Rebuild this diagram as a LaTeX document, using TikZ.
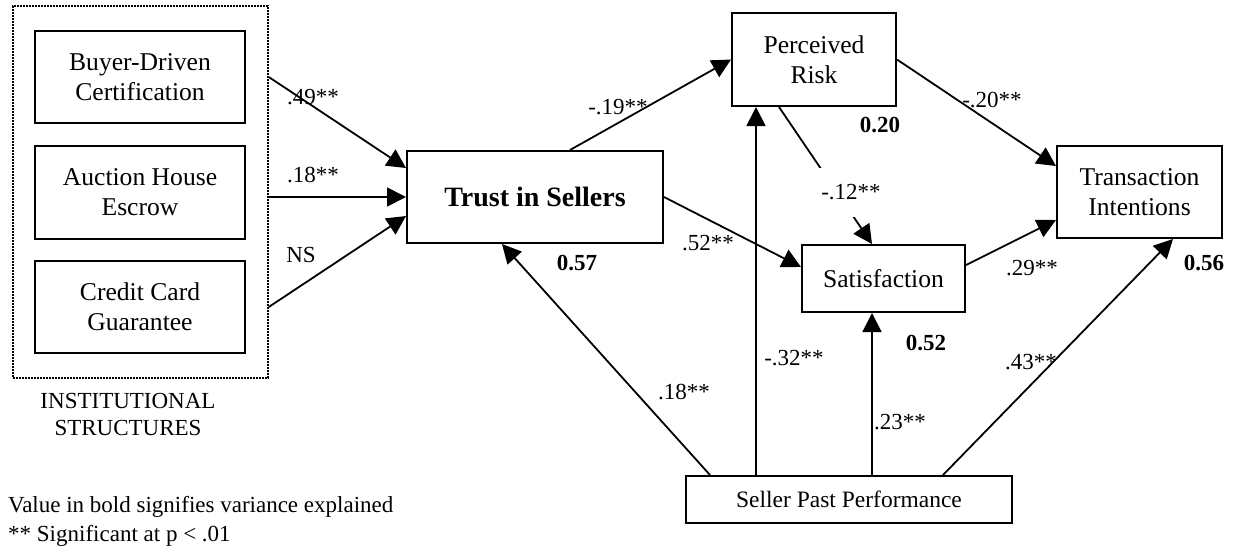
\documentclass[tikz,border=0pt]{standalone}
\usepackage{fontspec}
\setmainfont{Liberation Serif}
\usetikzlibrary{arrows.meta,calc}
\begin{document}
\begin{tikzpicture}[x=1pt,y=-1pt,
  box/.style={draw,line width=2pt,inner sep=0pt,align=center,font=\fontsize{25.6}{30}\selectfont},
  conn/.style={line width=1.8pt,-{Triangle[length=19pt,width=19pt]}},
  lab/.style={inner sep=0pt,font=\fontsize{23}{26}\selectfont},
  blab/.style={inner sep=0pt,font=\fontsize{23}{26}\selectfont\bfseries},
  note/.style={inner sep=0pt,align=left,anchor=west,font=\fontsize{23}{29}\selectfont}]
\useasboundingbox (0,0) rectangle (1234,550);
% institutional structures group
\node[draw,line width=1.6pt,dash pattern=on 1.6pt off 1.4pt,minimum width=255pt,minimum height=372pt,inner sep=0pt] (inst) at (140.5,192) {};
\node[box,minimum width=210pt,minimum height=92pt] (bdc) at (140,77) {Buyer-Driven\\Certification};
\node[box,minimum width=210pt,minimum height=93pt] (ahe) at (140,192.5) {Auction House\\Escrow};
\node[box,minimum width=210pt,minimum height=92pt] (ccg) at (140,307) {Credit Card\\Guarantee};
\node[lab,align=center,font=\fontsize{23}{27}\selectfont] (instlab) at (128,414.5) {INSTITUTIONAL\\STRUCTURES};
% main constructs
\node[box,minimum width=256pt,minimum height=92pt,font=\fontsize{28}{32}\selectfont\bfseries] (trust) at (535,197) {Trust in Sellers};
\node[box,minimum width=164pt,minimum height=93pt] (risk) at (814,59.5) {Perceived\\Risk};
\node[box,minimum width=163pt,minimum height=67pt] (sat) at (883.5,278.5) {Satisfaction};
\node[box,minimum width=165pt,minimum height=92pt] (trans) at (1139.5,192) {Transaction\\Intentions};
\node[box,minimum width=326pt,minimum height=47pt,font=\fontsize{23.5}{28}\selectfont] (seller) at (849,499.5) {Seller Past Performance};
% connectors
\draw[conn] (bdc -| inst.east) -- ([yshift=29pt]trust.west);
\draw[conn] (trust.west -| inst.east) -- (trust.west);
\draw[conn] (ccg -| inst.east) -- ([yshift=-19pt]trust.west);
\draw[conn] ([xshift=35pt]trust.north) -- (risk.west);
\draw[conn] (trust.east) -- ([yshift=11.5pt]sat.west);
\draw[conn] (risk.east) -- ([yshift=26pt]trans.west);
\draw[conn] ([yshift=13.5pt]sat.east) -- ([yshift=-28pt]trans.west);
\draw[conn] ([xshift=-35pt]risk.south) -- ([xshift=-11.5pt]sat.north);
\draw[conn] ([xshift=-139pt]seller.north) -- ([xshift=-33pt]trust.south);
\draw[conn] ([xshift=-93pt]seller.north) -- ([xshift=-58pt]risk.south);
\draw[conn] ([xshift=23pt]seller.north) -- ([xshift=-11.5pt]sat.south);
\draw[conn] ([xshift=94pt]seller.north) -- ([xshift=33.5pt]trans.south);
% path labels
\node[lab] (l1) at (313,97) {.49**};
\node[lab] (l2) at (313,175) {.18**};
\node[lab] (l3) at (301,255) {NS};
\node[lab] (l4) at (618,107) {-.19**};
\node[lab] (l5) at (708,243) {.52**};
\node[lab] (l6) at (992,100) {-.20**};
\node[lab,fill=white,minimum width=72pt,minimum height=49pt] (l7) at (851,192.5) {-.12**};
\node[lab] (l8) at (1032,268) {.29**};
\node[lab] (l9) at (684,392) {.18**};
\node[lab] (l10) at (794,358) {-.32**};
\node[lab] (l11) at (900,422) {.23**};
\node[lab] (l12) at (1031,362) {.43**};
% variance explained
\node[blab] (v1) at (577,263) {0.57};
\node[blab] (v2) at (880,125) {0.20};
\node[blab] (v3) at (926,343) {0.52};
\node[blab] (v4) at (1204,263) {0.56};
% notes
\node[note] (n1) at (8,507) {Value in bold signifies variance explained};
\node[note] (n2) at (8,536) {** Significant at p < .01};
\end{tikzpicture}
\end{document}
